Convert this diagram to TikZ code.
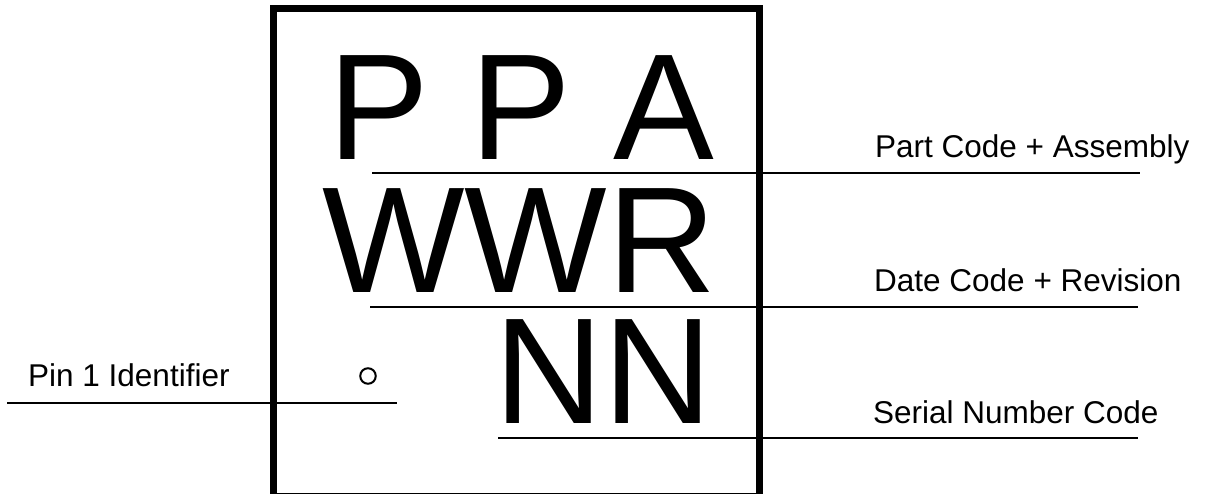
\documentclass[tikz,border=0pt]{standalone}
\usepackage{fontspec}
\setmainfont{Liberation Sans}
\usetikzlibrary{positioning}
\tikzset{
    bigmark/.style={inner sep=0pt,anchor=base west,text height=108pt,text depth=0pt,
        font=\fontsize{151}{151}\selectfont},
    callout/.style={inner sep=0pt,anchor=base west,
        font=\fontsize{31.5}{31.5}\selectfont},
    leader/.style={draw=black,line width=2.5pt},
    chipbody/.style={draw=black,line width=7pt},
    pindot/.style={circle,draw=black,line width=2pt,minimum size=15.5pt,inner sep=0pt}
}

\begin{document}
\begin{tikzpicture}[x=1pt,y=-1pt]
    \useasboundingbox (0,0) rectangle (1208,494);
    % package outline
    \draw[chipbody] (273.5,9) rectangle (759,496);
    % marking rows
    \node[bigmark] (partrow) at (328,160) {P P A};
    \node[bigmark] (daterow) at (322,293) {WWR};
    \node[bigmark] (serialrow) at (494.5,424) {NN};
    \node[pindot] (pinone) at (368,376) {};
    % callout texts
    \node[callout] (partlbl) at (875,158) {Part Code + Assembly};
    \node[callout] (datelbl) at (874,292) {Date Code + Revision};
    \node[callout] (seriallbl) at (873,423) {Serial Number Code};
    \node[callout] (pinlbl) at (28,386) {Pin 1 Identifier};
    % leader lines
    \coordinate (partL) at (372,173);
    \coordinate (partR) at (1140,173);
    \coordinate (dateL) at (370,307);
    \coordinate (dateR) at (1138,307);
    \coordinate (serialL) at (498,438);
    \coordinate (serialR) at (1138,438);
    \coordinate (pinL) at (7,403);
    \coordinate (pinR) at (397,403);
    \draw[leader] (partL) -- (partR);
    \draw[leader] (dateL) -- (dateR);
    \draw[leader] (serialL) -- (serialR);
    \draw[leader] (pinL) -- (pinR);
\end{tikzpicture}
\end{document}
